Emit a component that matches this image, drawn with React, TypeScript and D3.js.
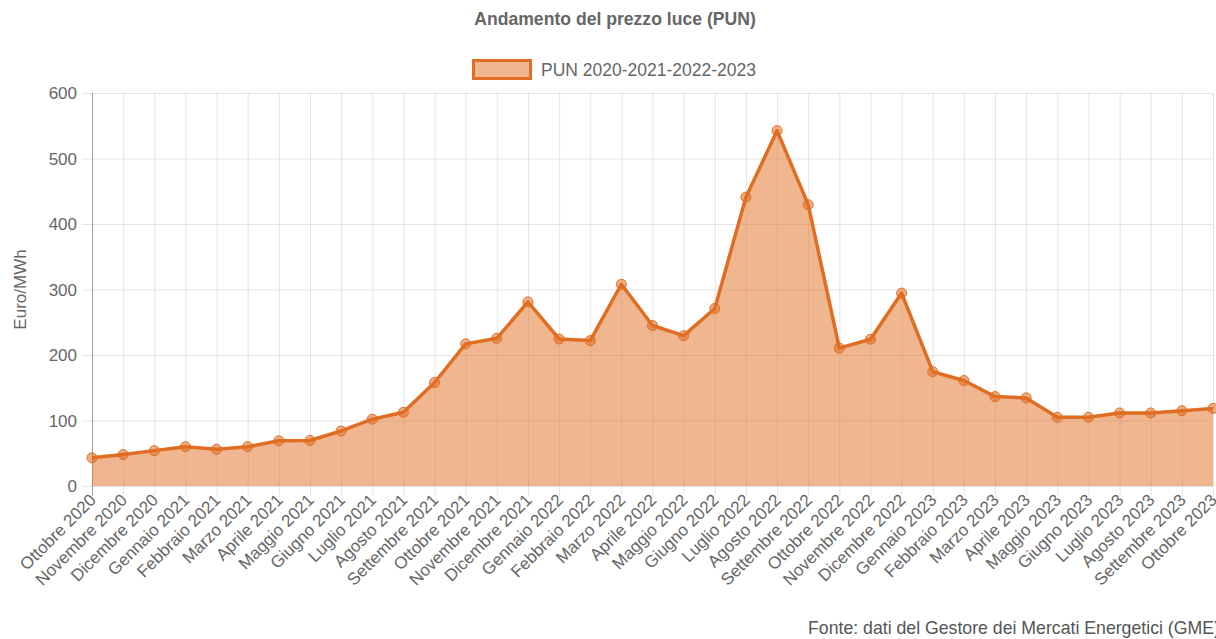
import React from "react";
import * as d3 from "d3";

const categories = [
  "Ottobre 2020", "Novembre 2020", "Dicembre 2020",
  "Gennaio 2021", "Febbraio 2021", "Marzo 2021", "Aprile 2021", "Maggio 2021", "Giugno 2021",
  "Luglio 2021", "Agosto 2021", "Settembre 2021", "Ottobre 2021", "Novembre 2021", "Dicembre 2021",
  "Gennaio 2022", "Febbraio 2022", "Marzo 2022", "Aprile 2022", "Maggio 2022", "Giugno 2022",
  "Luglio 2022", "Agosto 2022", "Settembre 2022", "Ottobre 2022", "Novembre 2022", "Dicembre 2022",
  "Gennaio 2023", "Febbraio 2023", "Marzo 2023", "Aprile 2023", "Maggio 2023", "Giugno 2023",
  "Luglio 2023", "Agosto 2023", "Settembre 2023", "Ottobre 2023",
];

const punValues = [
  43, 48, 54,
  60, 56, 60, 69, 69.5, 84,
  102, 112.5, 158, 217, 225.5, 281,
  224.5, 222, 308, 245, 229.5, 271,
  441, 542.5, 429.5, 210.5, 224, 294.5,
  174.5, 161, 136.5, 134.5, 105, 105,
  111.5, 111.5, 115, 118.5,
];

const yTicks = [0, 100, 200, 300, 400, 500, 600];

const title = "Andamento del prezzo luce (PUN)";
const seriesName = "PUN 2020-2021-2022-2023";
const yAxisTitle = "Euro/MWh";
const source = "Fonte: dati del Gestore dei Mercati Energetici (GME)";

const W = 1216;
const H = 639;
const left = 92;
const right = 1213;
const top = 93;
const bottom = 486;

const lineColor = "rgb(224,110,34)";
const fillColor = "rgba(224,110,34,0.5)";
const textColor = "#666";
const gridColor = "rgba(0,0,0,0.1)";
const font = "Arial, 'Liberation Sans', Helvetica, sans-serif";

export default function App() {
  const x = d3.scalePoint<string>().domain(categories).range([left, right]);
  const y = d3.scaleLinear().domain([0, 600]).range([bottom, top]);

  const pts = punValues.map((v, i) => [x(categories[i]) as number, y(v)] as [number, number]);
  const lineGen = d3.line<[number, number]>().x((d) => d[0]).y((d) => d[1]);
  const areaGen = d3
    .area<[number, number]>()
    .x((d) => d[0])
    .y0(y(0))
    .y1((d) => d[1]);

  return (
    <svg
      width={W}
      height={H}
      style={{ position: "absolute", left: 0, top: 0, display: "block" }}
      fontFamily={font}
    >
      <rect x={0} y={0} width={W} height={H} fill="#fff" />
      {/* title */}
      <text x={615} y={25} textAnchor="middle" fontSize={17.6} fontWeight="bold" fill={textColor}>
        {title}
      </text>
      {/* legend */}
      <rect x={473.5} y={60.5} width={57} height={18} fill={fillColor} stroke={lineColor} strokeWidth={3} />
      <text x={541} y={75.5} fontSize={17.5} fill={textColor}>
        {seriesName}
      </text>

      {/* horizontal grid */}
      {yTicks.map((t) => (
        <g key={"y" + t}>
          <line x1={82} x2={right} y1={y(t) + 0.5} y2={y(t) + 0.5} stroke={gridColor} strokeWidth={1} />
          <text x={77} y={y(t) + 6} textAnchor="end" fontSize={17} fill={textColor}>
            {t}
          </text>
        </g>
      ))}
      {/* vertical grid */}
      {categories.map((c) => (
        <line
          key={"x" + c}
          x1={(x(c) as number) + 0.5}
          x2={(x(c) as number) + 0.5}
          y1={top}
          y2={bottom + 10}
          stroke={gridColor}
          strokeWidth={1}
        />
      ))}
      {/* left axis line */}
      <line x1={left + 0.5} x2={left + 0.5} y1={top} y2={bottom + 10} stroke="rgba(0,0,0,0.3)" strokeWidth={1} />

      {/* area and line */}
      <path d={areaGen(pts) || ""} fill={fillColor} stroke="none" />
      <path d={lineGen(pts) || ""} fill="none" stroke={lineColor} strokeWidth={3.5} strokeLinejoin="round" />
      {pts.map((p, i) => (
        <circle key={"p" + i} cx={p[0]} cy={p[1]} r={5} fill="rgba(224,110,34,0.55)" stroke={lineColor} strokeWidth={1} />
      ))}

      {/* x labels */}
      {categories.map((c) => {
        const px = (x(c) as number) + 5;
        const py = 501;
        return (
          <text
            key={"l" + c}
            x={px}
            y={py}
            textAnchor="end"
            fontSize={17}
            fill={textColor}
            transform={`rotate(-45 ${px} ${py})`}
          >
            {c}
          </text>
        );
      })}

      {/* y axis title */}
      <text
        x={0}
        y={0}
        textAnchor="middle"
        fontSize={17}
        fill={textColor}
        transform={`translate(26 ${(top + bottom) / 2}) rotate(-90)`}
      >
        {yAxisTitle}
      </text>

      {/* source */}
      <text x={808} y={634} fontSize={17.7} fill="#555">
        {source}
      </text>
    </svg>
  );
}
